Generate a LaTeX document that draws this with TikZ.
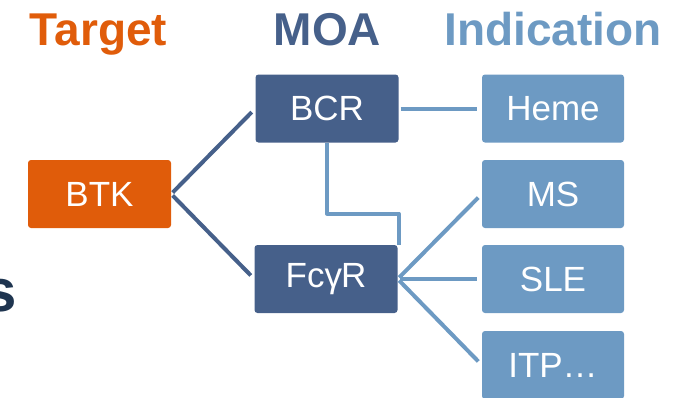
\documentclass[tikz,border=0pt]{standalone}
\usepackage{fontspec}
\setmainfont{Liberation Sans}
\definecolor{tgtorange}{HTML}{E05C0A}
\definecolor{moablue}{HTML}{46608A}
\definecolor{indblue}{HTML}{6D9AC3}
\definecolor{navy}{HTML}{1F3550}
\tikzset{
  box/.style={rounded corners=3pt, inner sep=0pt, text=white,
    font=\fontsize{35}{40}\selectfont, anchor=center},
  targetbox/.style={box, fill=tgtorange, minimum width=143pt, minimum height=68pt},
  moabox/.style={box, fill=moablue, minimum width=143pt, minimum height=68pt},
  indbox/.style={box, fill=indblue, minimum width=142pt, minimum height=68pt},
  heading/.style={font=\bfseries\fontsize{46}{50}\selectfont, anchor=base, inner sep=0pt},
  darklink/.style={draw=moablue, line width=4pt, shorten <=2pt, shorten >=5pt},
  lightlink/.style={draw=indblue, line width=4pt, shorten <=2pt, shorten >=5pt},
}
\begin{document}
\begin{tikzpicture}[x=1pt, y=-1pt]
  \useasboundingbox (0,0) rectangle (693,397);

  % column headings
  \node[heading, text=tgtorange] (htarget) at (98.5,45) {Target};
  \node[heading, text=moablue] (hmoa) at (327.5,45) {MOA};
  \node[heading, text=indblue] (hind) at (553,45) {Indication};

  % cut-off word at the left margin
  \node[font=\bfseries\fontsize{60}{64}\selectfont, text=navy, anchor=base east, inner sep=0pt]
    (tail) at (17,311) {s};

  % boxes
  \node[targetbox] (btk) at (99.5,194) {BTK};
  \node[moabox] (bcr) at (327,108.5) {BCR};
  \node[moabox] (fcr) at (326,279) {Fcγ\kern-1ptR};
  \node[indbox] (heme) at (553,108.5) {Heme};
  \node[indbox] (ms) at (553,194) {MS};
  \node[indbox] (sle) at (553,279) {SLE};
  \node[indbox] (itp) at (553,365) {ITP…};

  % target to mechanism
  \draw[darklink] (btk.east) -- (bcr.west);
  \draw[darklink] (btk.east) -- (fcr.west);

  % mechanism to indication
  \draw[lightlink] (bcr.east) -- (heme.west);
  \draw[lightlink] (fcr.east) -- (ms.west);
  \draw[lightlink] (fcr.east) -- (sle.west);
  \draw[lightlink] (fcr.east) -- (itp.west);

  % BCR also feeds the FcγR branch
  \coordinate (elbow) at ([xshift=1pt]fcr.north east);
  \draw[draw=indblue, line width=4pt, line join=round]
    (bcr.south) -- (bcr.south |- 0,213.5) -| (elbow);
\end{tikzpicture}
\end{document}
